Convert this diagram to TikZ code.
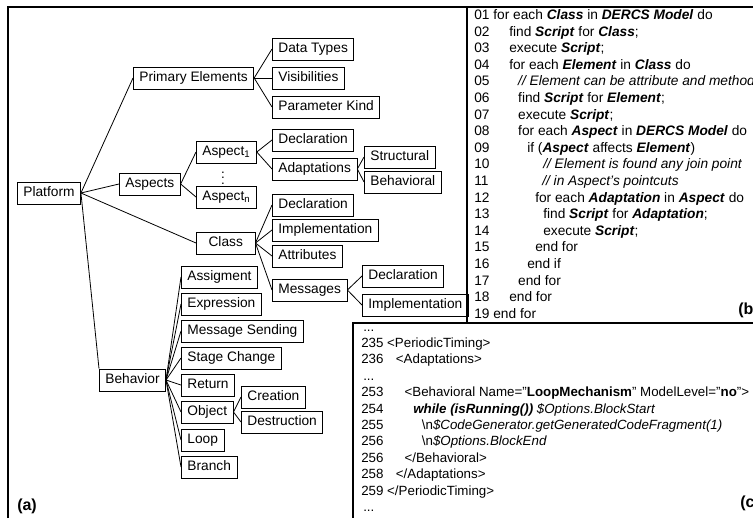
\documentclass[tikz,border=0pt]{standalone}
\usepackage{fontspec}
\setmainfont{Liberation Sans}
\newcommand{\kw}[1]{\textbf{\textit{#1}}}

\begin{document}
\begin{tikzpicture}[x=0.75pt,y=0.75pt,yscale=-1,xscale=1,
  box/.style={draw, line width=0.6pt, anchor=west, inner xsep=4.5pt, inner ysep=3.5pt, text height=7.4pt, text depth=2.1pt, font=\fontsize{10.3}{12}\selectfont},
  edge/.style={line width=0.6pt},
  frame/.style={line width=0.9pt},
  code/.style={anchor=west, inner sep=0pt, text height=7.3pt, text depth=2.1pt, font=\fontsize{10.3}{12}\selectfont},
  xml/.style={code, font=\fontsize{10}{12}\selectfont},
  tag/.style={anchor=west, inner sep=0pt, font=\fontsize{12}{14}\selectfont\bfseries}]
\useasboundingbox (0,0) rectangle (753,518);
\clip (0,0) rectangle (753,518);

%Frame lines
\draw [frame] (8,518) -- (8,7) -- (753,7) ;
\draw [frame] (467,7) -- (467,323) ;
\draw [frame] (753,323) -- (353,323) -- (353,518) ;

% Tree boxes (a)
\node [box] (platform) at (17,193) {Platform};
\node [box] (prim) at (133,78) {Primary Elements};
\node [box] (aspects) at (119,184) {Aspects};
\node [box] (aspect1) at (196,152) {Aspect\textsubscript{1}};
\node [inner sep=0pt, font=\fontsize{10}{12}\selectfont] (dots) at (223,174) {$\vdots$};
\node [box] (aspectn) at (196,197) {Aspect\textsubscript{n}};
\node [box, minimum width=44pt] (class) at (196,243) {Class};
\node [box] (behavior) at (99,380) {Behavior};
\node [box] (datatypes) at (272,49) {Data Types};
\node [box] (visib) at (272,78) {Visibilities};
\node [box] (paramkind) at (272,107) {Parameter Kind};
\node [box] (adecl) at (272,140) {Declaration};
\node [box] (adapt) at (272,169) {Adaptations};
\node [box] (struct) at (364,157) {Structural};
\node [box] (behav) at (364,182) {Behavioral};
\node [box] (cdecl) at (272,205) {Declaration};
\node [box] (cimpl) at (272,230) {Implementation};
\node [box] (attrib) at (272,256) {Attributes};
\node [box] (messages) at (272,290) {Messages};
\node [box] (mdecl) at (362,276) {Declaration};
\node [box] (mimpl) at (362,305) {Implementation};
\node [box] (assig) at (181,277) {Assigment};
\node [box] (expr) at (181,304) {Expression};
\node [box] (msgsend) at (181,331) {Message Sending};
\node [box] (stage) at (181,358) {Stage Change};
\node [box] (ret) at (181,385) {Return};
\node [box] (object) at (181,412) {Object};
\node [box] (loop) at (181,440) {Loop};
\node [box] (branch) at (181,467) {Branch};
\node [box] (creation) at (241,397) {Creation};
\node [box] (destruction) at (241,422) {Destruction};

%Straight Lines
\draw [edge] (platform.east) -- (prim.west) ;
\draw [edge] (platform.east) -- (aspects.west) ;
\draw [edge] (platform.east) -- (class.west) ;
\draw [edge] (platform.east) -- (behavior.north west) ;
\draw [edge] (prim.east) -- (datatypes.west) ;
\draw [edge] (prim.east) -- (visib.west) ;
\draw [edge] (prim.east) -- (paramkind.west) ;
\draw [edge] (aspects.east) -- (aspect1.west) ;
\draw [edge] (aspects.east) -- (aspectn.west) ;
\draw [edge] (aspect1.east) -- (adecl.west) ;
\draw [edge] (aspect1.east) -- (adapt.west) ;
\draw [edge] (adapt.east) -- (struct.west) ;
\draw [edge] (adapt.east) -- (behav.west) ;
\draw [edge] (class.east) -- (cdecl.west) ;
\draw [edge] (class.east) -- (cimpl.west) ;
\draw [edge] (class.east) -- (attrib.west) ;
\draw [edge] (class.east) -- (messages.west) ;
\draw [edge] (messages.east) -- (mdecl.west) ;
\draw [edge] (messages.east) -- (mimpl.west) ;
\draw [edge] (behavior.east) -- (assig.west) ;
\draw [edge] (behavior.east) -- (expr.west) ;
\draw [edge] (behavior.east) -- (msgsend.west) ;
\draw [edge] (behavior.east) -- (stage.west) ;
\draw [edge] (behavior.east) -- (ret.west) ;
\draw [edge] (behavior.east) -- (object.west) ;
\draw [edge] (behavior.east) -- (loop.west) ;
\draw [edge] (behavior.east) -- (branch.west) ;
\draw [edge] (object.east) -- (creation.west) ;
\draw [edge] (object.east) -- (destruction.west) ;

% Text Node (b)
\node [code] (b01) at (474,16) {01 for each \kw{Class} in \kw{DERCS Model} do};
\node [code] (b02) at (474,32.6) {02\hspace*{14.8pt}find \kw{Script} for \kw{Class};};
\node [code] (b03) at (474,49.2) {03\hspace*{14.8pt}execute \kw{Script};};
\node [code] (b04) at (474,65.8) {04\hspace*{14.8pt}for each \kw{Element} in \kw{Class} do};
\node [code] (b05) at (474,82.4) {05\hspace*{21.5pt}\textit{// Element can be attribute and method}};
\node [code] (b06) at (474,99) {06\hspace*{21.5pt}find \kw{Script} for \kw{Element};};
\node [code] (b07) at (474,115.6) {07\hspace*{21.5pt}execute \kw{Script};};
\node [code] (b08) at (474,132.2) {08\hspace*{21.5pt}for each \kw{Aspect} in \kw{DERCS Model} do};
\node [code] (b09) at (474,148.8) {09\hspace*{28.3pt}if (\kw{Aspect} affects \kw{Element})};
\node [code] (b10) at (474,165.4) {10\hspace*{40.3pt}\textit{// Element is found any join point}};
\node [code] (b11) at (474,182) {11\hspace*{40.3pt}\textit{// in Aspect's pointcuts}};
\node [code] (b12) at (474,198.6) {12\hspace*{34.3pt}for each \kw{Adaptation} in \kw{Aspect} do};
\node [code] (b13) at (474,215.2) {13\hspace*{40.3pt}find \kw{Script} for \kw{Adaptation};};
\node [code] (b14) at (474,231.8) {14\hspace*{40.3pt}execute \kw{Script};};
\node [code] (b15) at (474,248.4) {15\hspace*{34.3pt}end for};
\node [code] (b16) at (474,265) {16\hspace*{28.3pt}end if};
\node [code] (b17) at (474,281.6) {17\hspace*{21.5pt}end for};
\node [code] (b18) at (474,298.2) {18\hspace*{14.8pt}end for};
\node [code] (b19) at (474,314.8) {19 end for};

% Text Node (c)
\node [xml] (c00) at (363,327.6) {...};
\node [xml] (c01) at (361,344) {235 <PeriodicTiming>};
\node [xml] (c02) at (361,360.4) {236\hspace*{9.3pt}<Adaptations>};
\node [xml] (c03) at (363,376.8) {...};
\node [xml] (c04) at (361,393.2) {253\hspace*{15.8pt}<Behavioral Name="\textbf{LoopMechanism}" ModelLevel="\textbf{no}">};
\node [xml] (c05) at (361,409.6) {254\hspace*{22.3pt}\kw{while (isRunning())} \textit{\$Options.BlockStart}};
\node [xml] (c06) at (361,426) {255\hspace*{28.8pt}\textbackslash n\textit{\$CodeGenerator.getGeneratedCodeFragment(1)}};
\node [xml] (c07) at (361,442.4) {256\hspace*{28.8pt}\textbackslash n\textit{\$Options.BlockEnd}};
\node [xml] (c08) at (361,458.8) {256\hspace*{15.8pt}</Behavioral>};
\node [xml] (c09) at (361,475.2) {258\hspace*{9.3pt}</Adaptations>};
\node [xml] (c10) at (361,491.6) {259 </PeriodicTiming>};
\node [xml] (c11) at (363,508) {...};

% Panel labels
\node [tag] (taga) at (17,506) {(a)};
\node [tag] (tagb) at (738,310) {(b)};
\node [tag] (tagc) at (740,503) {(c)};

\end{tikzpicture}
\end{document}
